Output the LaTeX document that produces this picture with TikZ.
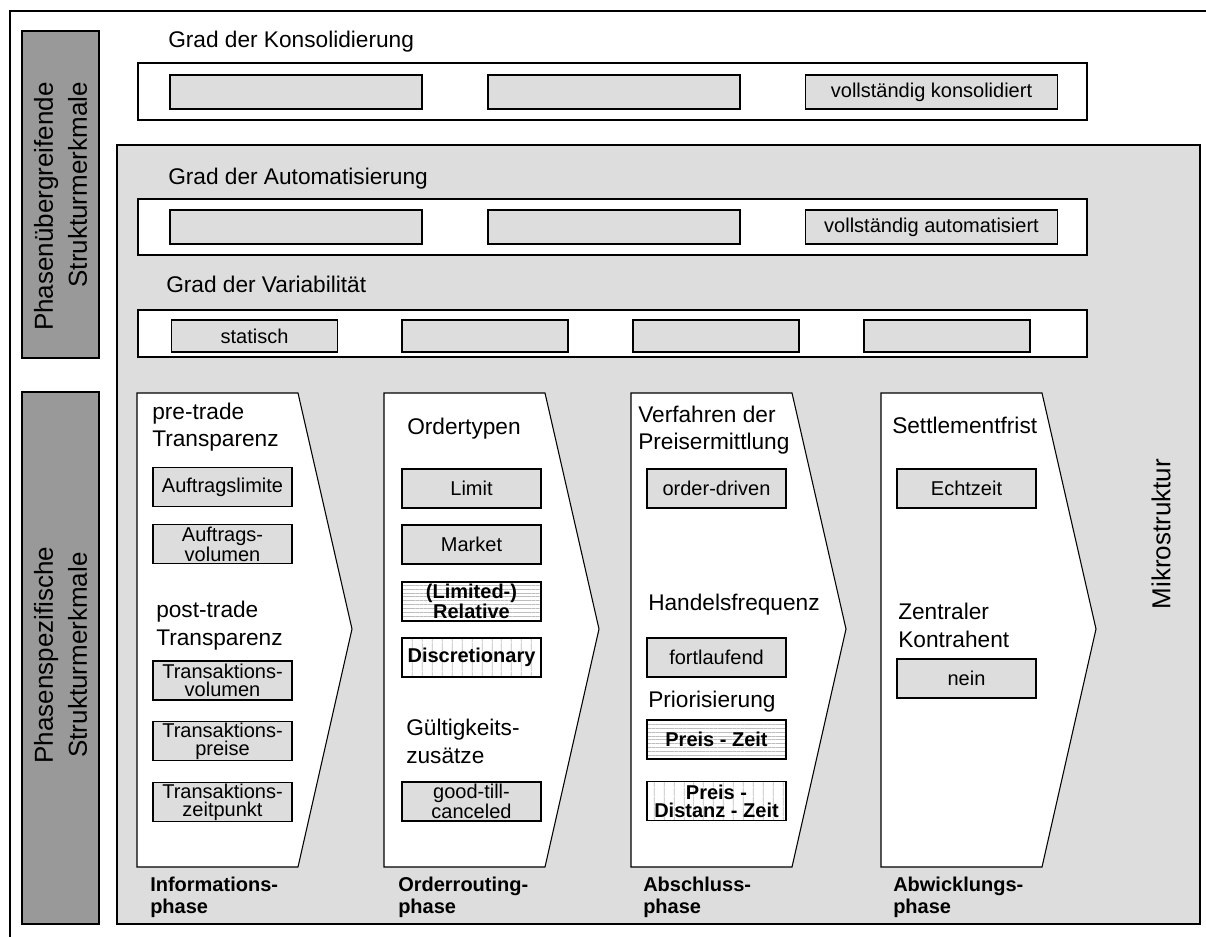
\documentclass[tikz,border=0pt]{standalone}
\usepackage{fontspec}
\setmainfont{Liberation Sans}
\usetikzlibrary{patterns.meta}

\definecolor{panelgray}{HTML}{DDDDDD}
\definecolor{bargray}{HTML}{999999}
\definecolor{hatchgray}{HTML}{BDBDBD}

\newlength\upx
\setlength\upx{0.75pt}
\newcommand\fhead{\fontsize{17}{20.5}\selectfont}
\newcommand\fcell{\fontsize{15}{13.5}\selectfont}
\newcommand\fside{\fontsize{19.5}{25.5}\selectfont}
\newcommand\fphase{\bfseries\fontsize{15}{16}\selectfont}

\begin{document}
\begin{tikzpicture}[x=0.75pt,y=-0.75pt,
  size/.style 2 args={minimum width=#1*\upx, minimum height=#2*\upx},
  group/.style={draw, fill=white, line width=0.9pt, inner sep=0},
  cell/.style={draw, fill=panelgray, line width=0.9pt, inner sep=0, align=center, font=\fcell, size={139}{39}},
  wide/.style={cell, size={252}{34}},
  var/.style={cell, size={166}{32}},
  hatchh/.style={cell, fill=none, preaction={fill=white},
    pattern={Lines[angle=0,distance=2.9pt,line width=0.5pt]}, pattern color=hatchgray,
    font=\fcell\bfseries},
  hatchv/.style={cell, fill=none, preaction={fill=white},
    pattern={Lines[angle=90,distance=7.25pt,line width=0.5pt]}, pattern color=hatchgray,
    font=\fcell\bfseries},
  % multi-line texts: the base anchor sits on the baseline of the last line
  head/.style={anchor=base west, inner sep=0, align=left, font=\fhead},
  phaselabel/.style={anchor=base west, inner sep=0, align=left, font=\fphase},
  side/.style={rotate=90, inner sep=0, font=\fside},
  phase/.style={draw, fill=white, line width=0.8pt, line join=miter}
]
\useasboundingbox (0,0) rectangle (1206,937);

% outer frame (left and top edges)
\draw[line width=1.6pt] (10,937) -- (10,11) -- (1206,11);

% side bars
\node[draw, fill=bargray, line width=0.9pt, size={77}{327}] (barA) at (60.5,194.5) {};
\node[draw, fill=bargray, line width=0.9pt, size={77}{532}] (barB) at (60.5,658) {};
\node[side, align=right, anchor=east] (sideA) at (60.5,82) {Phasenübergreifende\\Strukturmerkmale};
\node[side, align=center] (sideB) at (60.5,655) {Phasenspezifische\\Strukturmerkmale};

% microstructure panel
\draw[fill=panelgray, line width=0.9pt] (117,145) rectangle (1200,924);
\node[side] (micro) at (1161,534) {Mikrostruktur};

% degree of consolidation
\node[head] (tKons) at (168,48) {Grad der Konsolidierung};
\node[group, size={949}{57}] (gKons) at (612.5,91.5) {};
\node[wide] (k1) at (296,92) {};
\node[wide] (k2) at (614,92) {};
\node[wide] (k3) at (931.5,92) {vollständig konsolidiert};

% degree of automation
\node[head] (tAuto) at (168,185) {Grad der Automatisierung};
\node[group, size={949}{56}] (gAuto) at (612.5,227) {};
\node[wide] (a1) at (296,227) {};
\node[wide] (a2) at (614,227) {};
\node[wide] (a3) at (931.5,227) {vollständig automatisiert};

% degree of variability
\node[head] (tVar) at (166,293) {Grad der Variabilität};
\node[group, size={949}{47}] (gVar) at (612.5,333.5) {};
\node[var] (v1) at (254.5,336) {statisch};
\node[var] (v2) at (485,336) {};
\node[var] (v3) at (716,336) {};
\node[var] (v4) at (947,336) {};

% phase arrows
\foreach \x in {137,384,631,881}
  \draw[phase] (\x,393) -- ++(161,0) -- ++(54,236) -- ++(-54,238) -- ++(-161,0) -- cycle;

% information phase
\node[head] (hPre) at (152,447) {pre-trade\\Transparenz};
\node[cell] (c11) at (222.5,487) {Auftragslimite};
\node[cell] (c12) at (222.5,544) {Auftrags-\\volumen};
\node[head] (hPost) at (156,645) {post-trade\\Transparenz};
\node[cell] (c13) at (222.5,680.5) {Transaktions-\\volumen};
\node[cell] (c14) at (222.5,741) {Transaktions-\\preise};
\node[cell] (c15) at (222.5,802) {Transaktions-\\zeitpunkt};
\node[phaselabel] (p1) at (150,913) {Informations-\\phase};

% order routing phase
\node[head] (hOrd) at (407,435) {Ordertypen};
\node[cell] (c21) at (471.5,488.5) {Limit};
\node[cell] (c22) at (471.5,544.5) {Market};
\node[hatchh, font=\bfseries\fontsize{15}{13}\selectfont] (c23) at (471.5,601.5) {(Limited-)\\Relative};
\node[hatchv] (c24) at (471.5,657.5) {Discretionary};
\node[head] (hGuel) at (406,763) {Gültigkeits-\\zusätze};
\node[cell] (c25) at (471.5,801.5) {good-till-\\canceled};
\node[phaselabel] (p2) at (398,913) {Orderrouting-\\phase};

% trading phase
\node[head] (hVerf) at (638,450) {Verfahren der\\Preisermittlung};
\node[cell] (c31) at (716.5,488.5) {order-driven};
\node[head] (hFreq) at (648,610) {Handelsfrequenz};
\node[cell] (c32) at (716.5,657.5) {fortlaufend};
\node[head] (hPrio) at (648,707) {Priorisierung};
\node[hatchh] (c33) at (716.5,739.5) {Preis - Zeit};
\node[hatchv, font=\bfseries\fontsize{15}{13.5}\selectfont] (c34) at (716.5,801) {Preis -\\Distanz - Zeit};
\node[phaselabel] (p3) at (643,913) {Abschluss-\\phase};

% settlement phase
\node[head] (hSett) at (892,434) {Settlementfrist};
\node[cell] (c41) at (966.5,488.5) {Echtzeit};
\node[head] (hZent) at (898,647) {Zentraler\\Kontrahent};
\node[cell] (c42) at (966.5,678.5) {nein};
\node[phaselabel] (p4) at (893,913) {Abwicklungs-\\phase};

\end{tikzpicture}
\end{document}
